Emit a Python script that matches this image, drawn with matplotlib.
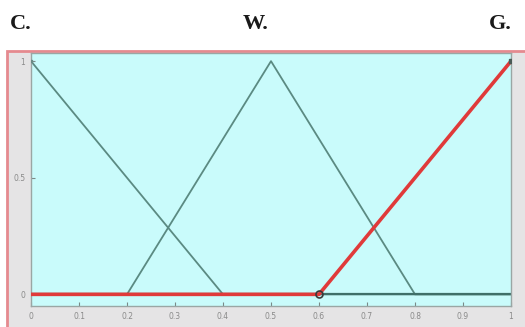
import matplotlib.pyplot as plt
from matplotlib.patches import Rectangle

# membership functions (breakpoints)
cold_x = [0, 0.4, 1.0]
cold_y = [1, 0, 0]
warm_x = [0, 0.2, 0.5, 0.8, 1.0]
warm_y = [0, 0, 1, 0, 0]
hot_x = [0, 0.6, 1.0]
hot_y = [0, 0, 1]
xticks = [0, 0.1, 0.2, 0.3, 0.4, 0.5, 0.6, 0.7, 0.8, 0.9, 1]
xticklabels = ['0', '0.1', '0.2', '0.3', '0.4', '0.5', '0.6', '0.7', '0.8', '0.9', '1']
yticks = [0, 0.5, 1]
yticklabels = ['0', '0.5', '1']
titles = ['C.', 'W.', 'G.']

W, H = 525, 327
fig = plt.figure(figsize=(W/100, H/100), dpi=100)

# grey panel with pink frame (runs off the bottom and right edge)
fig.patches.append(Rectangle((7/W, -0.05), (W-5)/W, (H-51)/H + 0.05, transform=fig.transFigure,
                             facecolor='#e5e4e5', edgecolor='#e58a8f', linewidth=2, zorder=-1))

for t, x, ha in zip(titles, [10/W, 256/W, 512/W], ['left', 'center', 'right']):
    fig.text(x, 1 - 24/H, t, ha=ha, va='center', fontsize=16, fontweight='bold',
             family='Liberation Serif', color='#1a1a1a')

ax = fig.add_axes([31/W, 1 - 306/H, 480/W, 253/H])
ax.set_zorder(2)
ax.set_facecolor('#c9fbfb')
ax.set_xlim(0, 1)
ax.set_ylim(-0.05, 1.035)

lc = '#5b8a82'
ax.plot(cold_x, cold_y, color=lc, lw=1.3)
ax.plot(warm_x, warm_y, color=lc, lw=1.3)
ax.plot([0, 1], [0, 0], color='#3f6f68', lw=1.6)
ax.plot(hot_x, hot_y, color='#e03a3a', lw=2.6, solid_capstyle='butt', zorder=5)
ax.plot([0.6], [0], marker='o', ms=5, mfc='none', mec='#3a3a3a', mew=1.2, zorder=6)
ax.plot([1.0], [1.0], marker='s', ms=3, color='#4a5a55', zorder=6)
ax.plot([0.0], [1.0], marker='s', ms=2, color='#6a8a84', zorder=6)

ax.set_xticks(xticks)
ax.set_xticklabels(xticklabels)
ax.set_yticks(yticks)
ax.set_yticklabels(yticklabels)
ax.tick_params(direction='in', length=3, width=0.8, color='#7a8a88', labelsize=5.5,
               labelcolor='#8a8a8a', pad=4)
for s in ax.spines.values():
    s.set_color('#9aa6a4')
    s.set_linewidth(1)

fig.savefig('out.png', dpi=100)
